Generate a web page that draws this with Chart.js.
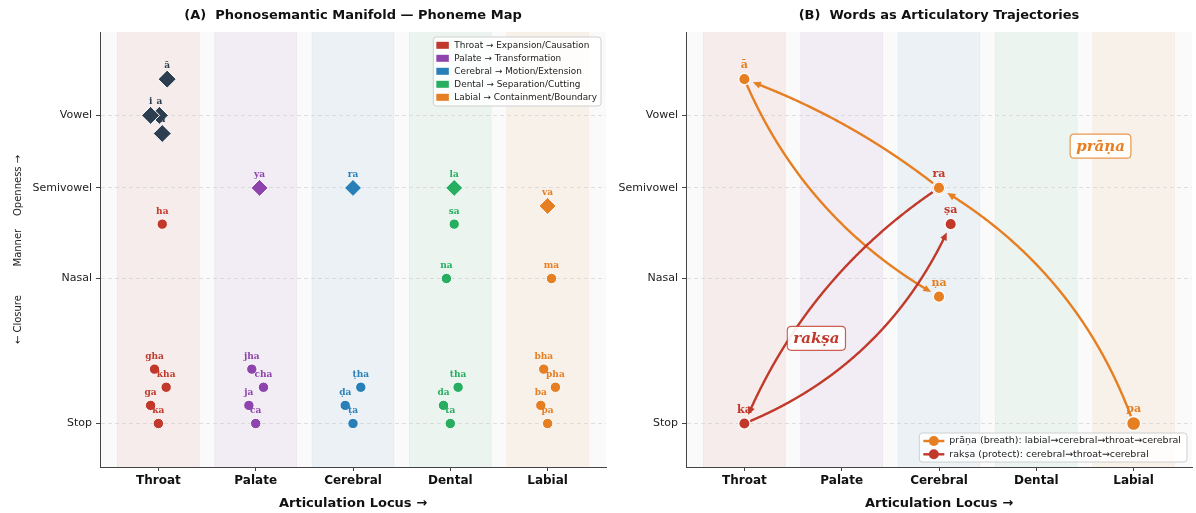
<!DOCTYPE html>
<html>
<head>
<meta charset="utf-8">
<title>Phonosemantic Manifold</title>
<script src="https://cdn.jsdelivr.net/npm/chart.js@4.4.1/dist/chart.umd.min.js"></script>
<style>
  html, body { margin: 0; padding: 0; background: #ffffff; overflow: hidden; }
  #wrap { position: relative; width: 1196px; height: 513px; overflow: hidden; }
  #mapChart { position: absolute; left: 0; top: 0; }
  #wordChart { position: absolute; left: 600px; top: 0; }
</style>
</head>
<body>
<div id="wrap">
  <canvas id="mapChart" width="620" height="513" style="width:620px;height:513px"></canvas>
  <canvas id="wordChart" width="596" height="513" style="width:596px;height:513px"></canvas>
</div>
<script>
// ---- articulation loci (x axis) ----
const loci = ['Throat', 'Palate', 'Cerebral', 'Dental', 'Labial'];
const lociColors = ['#c0392b', '#8e44ad', '#2980b9', '#27ae60', '#e67e22'];
const lociMeanings = ['Expansion/Causation', 'Transformation', 'Motion/Extension', 'Separation/Cutting', 'Containment/Boundary'];
const vowelColor = '#2c3e50';

// ---- manner of articulation (y axis, closure → openness) ----
const mannerLabels = ['Stop', 'Nasal', 'Semivowel', 'Vowel'];
const mannerLevels = [0, 0.40, 0.65, 0.85];

// ---- phonemes: [name, locus position, openness] ----
const throatSounds   = [['ka', 0, 0], ['ga', -0.08, 0.05], ['kha', 0.08, 0.10], ['gha', -0.04, 0.15], ['ha', 0.04, 0.55]];
const palateSounds   = [['ca', 1, 0], ['ja', 0.93, 0.05], ['cha', 1.08, 0.10], ['jha', 0.96, 0.15]];
const cerebralSounds = [['ṭa', 2, 0], ['ḍa', 1.92, 0.05], ['ṭha', 2.08, 0.10]];
const dentalSounds   = [['ta', 3, 0], ['da', 2.93, 0.05], ['tha', 3.08, 0.10], ['na', 2.96, 0.40], ['sa', 3.04, 0.55]];
const labialSounds   = [['pa', 4, 0], ['ba', 3.93, 0.05], ['pha', 4.08, 0.10], ['bha', 3.96, 0.15], ['ma', 4.04, 0.40]];
const semivowelSounds = [['ya', 1.04, 0.65], ['ra', 2, 0.65], ['la', 3.04, 0.65], ['va', 4, 0.60]];
const vowelSounds    = [['ā', 0.09, 0.95], ['u', 0.04, 0.80], ['a', 0.01, 0.85], ['i', -0.08, 0.85]];

// ---- words as trajectories through the map ----
const pranaPath  = [['pa', 4, 0], ['ra', 2, 0.65], ['ā', 0, 0.95], ['ṇa', 2, 0.35]];
const rakshaPath = [['ra', 2, 0.65], ['ka', 0, 0], ['ṣa', 2.12, 0.55]];
const wordNames  = ['prāṇa', 'rakṣa'];
const wordGlosses = ['prāṇa (breath): labial→cerebral→throat→cerebral', 'rakṣa (protect): cerebral→throat→cerebral'];
const wordColors = ['#e67e22', '#c0392b'];

Chart.defaults.font.family = '"DejaVu Sans", sans-serif';
Chart.defaults.color = '#222';

function withAlpha(hex, a) {
  const n = parseInt(hex.slice(1), 16);
  return `rgba(${(n >> 16) & 255},${(n >> 8) & 255},${n & 255},${a})`;
}
function toPoints(list) { return list.map(p => ({ x: p[1], y: p[2] })); }
function roundRect(ctx, x, y, w, h, r) {
  ctx.beginPath();
  ctx.moveTo(x + r, y);
  ctx.lineTo(x + w - r, y); ctx.quadraticCurveTo(x + w, y, x + w, y + r);
  ctx.lineTo(x + w, y + h - r); ctx.quadraticCurveTo(x + w, y + h, x + w - r, y + h);
  ctx.lineTo(x + r, y + h); ctx.quadraticCurveTo(x, y + h, x, y + h - r);
  ctx.lineTo(x, y + r); ctx.quadraticCurveTo(x, y, x + r, y);
  ctx.closePath();
}

// Plot background and the five locus bands
const locusBands = {
  id: 'locusBands',
  beforeDraw(chart) {
    const { ctx, chartArea: a, scales: { x } } = chart;
    const half = 0.42;
    ctx.save();
    ctx.fillStyle = '#fafafa';
    ctx.fillRect(a.left, a.top, a.right - a.left, a.bottom - a.top);
    loci.forEach((_, i) => {
      const l = x.getPixelForValue(i - half), r = x.getPixelForValue(i + half);
      ctx.fillStyle = withAlpha(lociColors[i], 0.07);
      ctx.fillRect(l, a.top, r - l, a.bottom - a.top);
      ctx.strokeStyle = withAlpha(lociColors[i], 0.06);
      ctx.lineWidth = 1;
      ctx.beginPath();
      ctx.moveTo(l, a.top); ctx.lineTo(l, a.bottom);
      ctx.moveTo(r, a.top); ctx.lineTo(r, a.bottom);
      ctx.stroke();
    });
    ctx.restore();
  }
};

// Phoneme names written above their markers
const pointNames = {
  id: 'pointNames',
  afterDatasetsDraw(chart, args, opts) {
    const ctx = chart.ctx;
    ctx.save();
    ctx.font = `bold ${opts.size}px "DejaVu Serif", serif`;
    ctx.textAlign = 'center';
    ctx.textBaseline = 'middle';
    const seen = new Set();
    for (let di = chart.data.datasets.length - 1; di >= 0; di--) {
      const ds = chart.data.datasets[di];
      if (!ds.names) continue;
      const meta = chart.getDatasetMeta(di);
      meta.data.forEach((pt, i) => {
        const key = ds.names[i] + '@' + ds.data[i].x + ',' + ds.data[i].y;
        if (seen.has(key)) return;
        seen.add(key);
        ctx.fillStyle = Array.isArray(ds.backgroundColor) ? ds.backgroundColor[i] : ds.backgroundColor;
        const r = Array.isArray(ds.pointRadius) ? ds.pointRadius[i] : ds.pointRadius;
        ctx.fillText(ds.names[i], pt.x, pt.y - opts.offset - (r - 5.5) * 0.3);
      });
    }
    ctx.restore();
  }
};

// Legend of the five loci (patch style)
const lociLegend = {
  id: 'lociLegend',
  afterDraw(chart) {
    const { ctx, chartArea: a } = chart;
    ctx.save();
    ctx.font = '8.9px "DejaVu Sans", sans-serif';
    const texts = loci.map((l, i) => `${l} → ${lociMeanings[i]}`);
    const tw = Math.max(...texts.map(t => ctx.measureText(t).width));
    const w = tw + 25, h = 69;
    const bx = a.right - 5 - w, by = a.top + 5;
    roundRect(ctx, bx, by, w, h, 3);
    ctx.fillStyle = 'rgba(255,255,255,0.85)';
    ctx.fill();
    ctx.strokeStyle = '#d0d0d0';
    ctx.lineWidth = 1;
    ctx.stroke();
    ctx.textBaseline = 'middle';
    texts.forEach((t, i) => {
      const cy = by + 8.3 + i * 13;
      ctx.fillStyle = lociColors[i];
      ctx.fillRect(bx + 3, cy - 3.5, 12.5, 7);
      ctx.fillStyle = '#222';
      ctx.fillText(t, bx + 21, cy);
    });
    ctx.restore();
  }
};

// Curved arrows joining the phonemes of each word, bent like arc3 connections
const trajectories = {
  id: 'trajectories',
  beforeDatasetsDraw(chart) {
    const { ctx, scales: { x, y } } = chart;
    ctx.save();
    chart.data.datasets.forEach(ds => {
      const px = ds.data.map(p => ({ x: x.getPixelForValue(p.x), y: y.getPixelForValue(p.y) }));
      for (let k = 0; k < px.length - 1; k++) {
        drawArc(ctx, px[k], px[k + 1], ds.bends[k], ds.backgroundColor);
      }
    });
    ctx.restore();
  }
};
function drawArc(ctx, p1, p2, rad, color) {
  const mx = (p1.x + p2.x) / 2, my = (p1.y + p2.y) / 2;
  const dx = p2.x - p1.x, dy = p2.y - p1.y;
  const c = { x: mx - rad * dy, y: my + rad * dx };
  const at = t => ({
    x: (1 - t) * (1 - t) * p1.x + 2 * (1 - t) * t * c.x + t * t * p2.x,
    y: (1 - t) * (1 - t) * p1.y + 2 * (1 - t) * t * c.y + t * t * p2.y
  });
  const N = 400, shrinkA = 6, shrinkB = 9, head = 7.5, halfW = 3.4;
  const pts = [];
  for (let i = 0; i <= N; i++) pts.push(at(i / N));
  let s = 0, e = N;
  while (s < N && Math.hypot(pts[s].x - p1.x, pts[s].y - p1.y) < shrinkA) s++;
  while (e > 0 && Math.hypot(pts[e].x - p2.x, pts[e].y - p2.y) < shrinkB) e--;
  const tip = pts[e];
  let b = e;
  while (b > s && Math.hypot(pts[b].x - tip.x, pts[b].y - tip.y) < head) b--;
  const base = pts[b];
  ctx.strokeStyle = color;
  ctx.fillStyle = color;
  ctx.lineWidth = 2.4;
  ctx.lineCap = 'round';
  ctx.beginPath();
  ctx.moveTo(pts[s].x, pts[s].y);
  for (let i = s + 1; i <= b; i++) ctx.lineTo(pts[i].x, pts[i].y);
  ctx.stroke();
  const ux = (tip.x - base.x) / head, uy = (tip.y - base.y) / head;
  ctx.beginPath();
  ctx.moveTo(tip.x, tip.y);
  ctx.lineTo(base.x - uy * halfW, base.y + ux * halfW);
  ctx.lineTo(base.x + uy * halfW, base.y - ux * halfW);
  ctx.closePath();
  ctx.fill();
}

// Word tags and the line-style legend of the trajectories panel
const wordLabels = {
  id: 'wordLabels',
  afterDraw(chart) {
    const { ctx, chartArea: a, scales: { x, y } } = chart;
    ctx.save();
    const anchors = [[3.66, 0.765], [0.74, 0.235]];
    ctx.font = 'italic bold 15px "DejaVu Serif", serif';
    ctx.textAlign = 'center';
    ctx.textBaseline = 'middle';
    wordNames.forEach((w, i) => {
      const cx = x.getPixelForValue(anchors[i][0]), cy = y.getPixelForValue(anchors[i][1]);
      const tw = ctx.measureText(w).width;
      roundRect(ctx, cx - tw / 2 - 6, cy - 12, tw + 12, 24, 4);
      ctx.fillStyle = 'rgba(255,255,255,0.9)';
      ctx.fill();
      ctx.strokeStyle = withAlpha(wordColors[i], 0.8);
      ctx.lineWidth = 1.2;
      ctx.stroke();
      ctx.fillStyle = wordColors[i];
      ctx.fillText(w, cx, cy + 1);
    });

    ctx.font = '9.5px "DejaVu Sans", sans-serif';
    ctx.textAlign = 'left';
    const tw = Math.max(...wordGlosses.map(t => ctx.measureText(t).width));
    const w = tw + 36, h = 29;
    const bx = a.right - 5 - w, by = a.bottom - 5 - h;
    roundRect(ctx, bx, by, w, h, 3);
    ctx.fillStyle = 'rgba(255,255,255,0.85)';
    ctx.fill();
    ctx.strokeStyle = '#d0d0d0';
    ctx.lineWidth = 1;
    ctx.stroke();
    wordGlosses.forEach((t, i) => {
      const cy = by + 8 + i * 13.3;
      ctx.strokeStyle = wordColors[i];
      ctx.lineWidth = 2.4;
      ctx.beginPath();
      ctx.moveTo(bx + 4, cy); ctx.lineTo(bx + 25, cy);
      ctx.stroke();
      ctx.beginPath();
      ctx.arc(bx + 14.5, cy, 5, 0, Math.PI * 2);
      ctx.fillStyle = wordColors[i];
      ctx.fill();
      ctx.fillStyle = '#222';
      ctx.textBaseline = 'middle';
      ctx.fillText(t, bx + 30, cy);
    });
    ctx.restore();
  }
};

function buildScales(yWidth, yTitle) {
  return {
    x: {
      type: 'linear', min: -0.6, max: 4.6,
      afterBuildTicks: s => { s.ticks = loci.map((_, i) => ({ value: i })); },
      afterFit: s => { s.height = 46; s.paddingLeft = 0; s.paddingRight = 0; },
      ticks: {
        callback: v => loci[v],
        font: { size: 12, weight: 'bold' }, color: '#111', padding: 3,
        autoSkip: false, maxRotation: 0
      },
      grid: { display: true, drawOnChartArea: false, drawTicks: true, tickLength: 4, tickColor: '#444', tickWidth: 1 },
      border: { display: true, color: '#444', width: 1 },
      title: { display: true, text: 'Articulation Locus →', font: { size: 13, weight: 'bold' }, color: '#111', padding: { top: 2, bottom: 2 } }
    },
    y: {
      type: 'linear', min: -0.12, max: 1.08,
      afterBuildTicks: s => { s.ticks = mannerLevels.map(v => ({ value: v })); },
      afterFit: s => { s.width = yWidth; },
      ticks: {
        callback: v => mannerLabels[mannerLevels.indexOf(v)],
        font: { size: 11 }, color: '#222', padding: 4
      },
      grid: { display: true, drawOnChartArea: true, color: 'rgba(200,200,200,0.55)', lineWidth: 1, drawTicks: true, tickLength: 4, tickColor: '#444', tickWidth: 1, tickBorderDash: [] },
      border: { display: true, color: '#444', width: 1, dash: [4, 3] },
      title: yTitle ? { display: true, text: yTitle, font: { size: 10 }, color: '#222', padding: { top: 12, bottom: 0 } } : { display: false }
    }
  };
}

function titleOpts(text) {
  return {
    display: true, text, fullSize: false,
    font: { size: 13, weight: 'bold' }, color: '#111',
    padding: { top: 8, bottom: 8.4 }
  };
}

// ---- Panel A: phoneme map ----
const consonantGroups = [throatSounds, palateSounds, cerebralSounds, dentalSounds, labialSounds];
const mapDatasets = consonantGroups.map((g, i) => ({
  label: loci[i],
  names: g.map(p => p[0]),
  data: toPoints(g),
  backgroundColor: lociColors[i],
  borderColor: '#ffffff', borderWidth: 1,
  pointStyle: 'circle', pointRadius: 5.2
}));
mapDatasets.push({
  label: 'Semivowels',
  names: semivowelSounds.map(p => p[0]),
  data: toPoints(semivowelSounds),
  backgroundColor: semivowelSounds.map(p => lociColors[Math.round(p[1])]),
  borderColor: '#ffffff', borderWidth: 1,
  pointStyle: 'rectRot', pointRadius: 8.5
});
mapDatasets.push({
  label: 'Vowels',
  names: vowelSounds.map(p => p[0]),
  data: toPoints(vowelSounds),
  backgroundColor: vowelColor,
  borderColor: '#ffffff', borderWidth: 1,
  pointStyle: 'rectRot', pointRadius: 9
});

new Chart(document.getElementById('mapChart'), {
  type: 'scatter',
  data: { datasets: mapDatasets },
  options: {
    responsive: false, animation: false, devicePixelRatio: 1, events: [],
    layout: { autoPadding: false, padding: { left: 0, right: 14, top: 0, bottom: 0 } },
    scales: buildScales(100, '← Closure         Manner    Openness →'),
    plugins: {
      legend: { display: false }, tooltip: { enabled: false },
      title: titleOpts('(A)  Phonosemantic Manifold — Phoneme Map'),
      pointNames: { size: 9, offset: 12.5 }
    }
  },
  plugins: [locusBands, pointNames, lociLegend]
});

// ---- Panel B: words as trajectories ----
const wordPaths = [pranaPath, rakshaPath];
const wordBends = [[0.18, 0.08, 0.17], [0.15, 0.2]];
const wordDatasets = wordPaths.map((path, i) => ({
  label: wordGlosses[i],
  names: path.map(p => p[0]),
  data: toPoints(path),
  backgroundColor: wordColors[i],
  borderColor: '#ffffff', borderWidth: 1.3,
  pointStyle: 'circle',
  pointRadius: path.map((_, k) => (k === 0 ? 7 : 5.7)),
  bends: wordBends[i]
}));

new Chart(document.getElementById('wordChart'), {
  type: 'scatter',
  data: { datasets: wordDatasets },
  options: {
    responsive: false, animation: false, devicePixelRatio: 1, events: [],
    layout: { autoPadding: false, padding: { left: 0, right: 4, top: 0, bottom: 0 } },
    scales: buildScales(86, null),
    plugins: {
      legend: { display: false }, tooltip: { enabled: false },
      title: titleOpts('(B)  Words as Articulatory Trajectories'),
      pointNames: { size: 11, offset: 13.5 }
    }
  },
  plugins: [locusBands, trajectories, pointNames, wordLabels]
});
</script>
</body>
</html>
